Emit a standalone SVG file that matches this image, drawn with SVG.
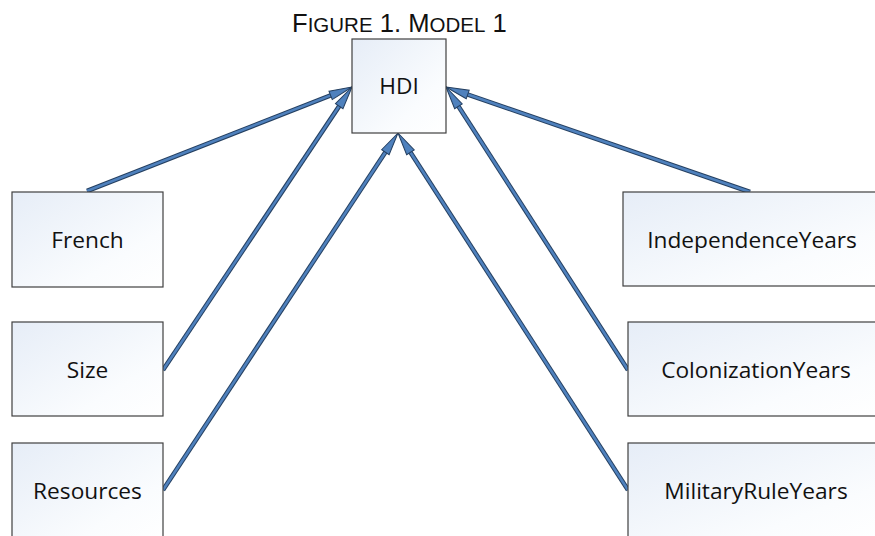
<svg xmlns="http://www.w3.org/2000/svg" width="875" height="536" viewBox="0 0 875 536">
<style>
.box{fill:url(#g);stroke:#404040;stroke-width:1.2}
.lbl{font-family:"Open Sans","Liberation Sans",sans-serif;font-size:22.7px;fill:#111;text-anchor:middle}
.title{font-family:"Liberation Sans",Arial,sans-serif;fill:#111}
.out{stroke:#243f60;stroke-width:4.6;fill:none;stroke-linecap:butt}
.in{stroke:#4f81bd;stroke-width:2.6;fill:none;stroke-linecap:butt}
</style>
<defs>
<linearGradient id="g" x1="0" y1="0" x2="1" y2="1">
<stop offset="0" stop-color="#e6edf7"/>
<stop offset="0.7" stop-color="#fafcfe"/>
<stop offset="1" stop-color="#ffffff"/>
</linearGradient>
<marker id="ah" markerUnits="userSpaceOnUse" markerWidth="40" markerHeight="20" refX="0" refY="0" viewBox="-12 -10 40 20" orient="auto" overflow="visible">
<path d="M-9,-4.5 L14,0 L-9,4.5 Z" fill="#4f81bd" stroke="#243f60" stroke-width="1"/>
</marker>
</defs>
<rect width="875" height="536" fill="#ffffff"/>
<text class="title" x="292" y="31.5" font-size="25.6">F<tspan font-size="20.5">IGURE</tspan> 1. M<tspan font-size="20.5">ODEL</tspan> 1</text>
<g id="connectors">
<line class="out" x1="87" y1="191" x2="338.97" y2="92.11"/>
<line class="in" x1="87" y1="191" x2="338.97" y2="92.11" marker-end="url(#ah)"/>
<line class="out" x1="163" y1="370" x2="344.22" y2="98.64"/>
<line class="in" x1="163" y1="370" x2="344.22" y2="98.64" marker-end="url(#ah)"/>
<line class="out" x1="163" y1="490" x2="390.30" y2="144.69"/>
<line class="in" x1="163" y1="490" x2="390.30" y2="144.69" marker-end="url(#ah)"/>
<line class="out" x1="750" y1="192" x2="459.23" y2="91.57"/>
<line class="in" x1="750" y1="192" x2="459.23" y2="91.57" marker-end="url(#ah)"/>
<line class="out" x1="628" y1="370" x2="453.57" y2="98.77"/>
<line class="in" x1="628" y1="370" x2="453.57" y2="98.77" marker-end="url(#ah)"/>
<line class="out" x1="628" y1="490" x2="405.58" y2="144.77"/>
<line class="in" x1="628" y1="490" x2="405.58" y2="144.77" marker-end="url(#ah)"/>
</g>
<g id="hdi">
<rect class="box" x="352" y="39" width="94" height="94"/>
<text class="lbl" x="399" y="93.5">HDI</text>
</g>
<g id="french">
<rect class="box" x="12" y="192" width="151" height="95"/>
<text class="lbl" x="87.5" y="248">French</text>
</g>
<g id="size">
<rect class="box" x="12" y="322" width="151" height="94"/>
<text class="lbl" x="87.5" y="377.5">Size</text>
</g>
<g id="resources">
<rect class="box" x="12" y="443" width="151" height="100"/>
<text class="lbl" x="87.5" y="498.5">Resources</text>
</g>
<g id="independenceyears">
<rect class="box" x="623" y="192" width="260" height="94"/>
<text class="lbl" x="752" y="248">IndependenceYears</text>
</g>
<g id="colonizationyears">
<rect class="box" x="628" y="322" width="260" height="94"/>
<text class="lbl" x="756" y="377.5">ColonizationYears</text>
</g>
<g id="militaryruleyears">
<rect class="box" x="628" y="443" width="260" height="100"/>
<text class="lbl" x="756" y="498.5">MilitaryRuleYears</text>
</g>
</svg>
